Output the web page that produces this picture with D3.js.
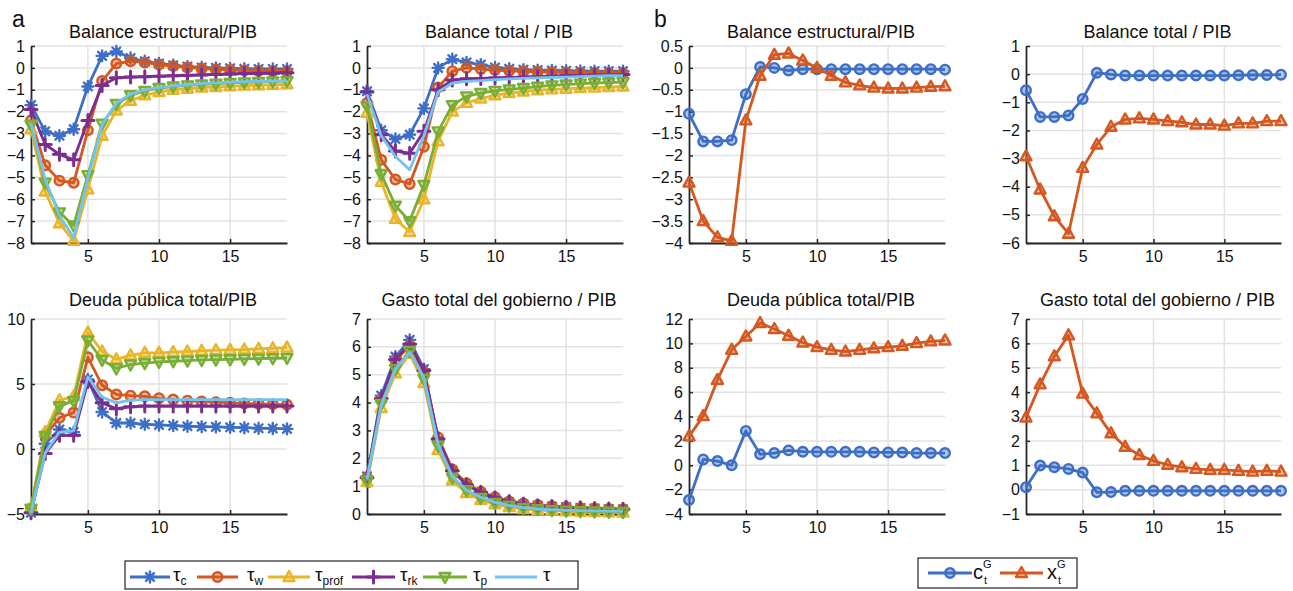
<!DOCTYPE html>
<html><head><meta charset="utf-8">
<script src="https://cdn.jsdelivr.net/npm/d3@7"></script>
<style>body{margin:0;background:#fff}svg{display:block}text{font-family:"Liberation Sans",Arial,Helvetica,sans-serif;fill:#111}</style>
</head><body><svg id="c" width="1293" height="591"></svg>
<script>
// ---------- DATA ----------
const periods = [1,2,3,4,5,6,7,8,9,10,11,12,13,14,15,16,17,18,19];
const xTicks = [5,10,15];

// Panel a — Balance estructural/PIB
const aBE_tc    = [-1.7,-2.9,-3.1,-2.8,-0.85,0.55,0.75,0.45,0.3,0.2,0.12,0.06,0.02,0.0,-0.02,-0.04,-0.05,-0.05,-0.05];
const aBE_tw    = [-2.4,-4.45,-5.15,-5.25,-2.85,-0.6,0.2,0.3,0.25,0.15,0.08,0.02,-0.03,-0.07,-0.1,-0.12,-0.14,-0.16,-0.17];
const aBE_tprof = [-2.8,-5.65,-7.1,-7.9,-5.55,-3.1,-1.95,-1.5,-1.25,-1.1,-1.0,-0.95,-0.9,-0.87,-0.84,-0.81,-0.79,-0.77,-0.75];
const aBE_trk   = [-1.9,-3.5,-3.95,-4.2,-2.4,-0.8,-0.45,-0.42,-0.4,-0.38,-0.36,-0.34,-0.32,-0.3,-0.28,-0.26,-0.25,-0.24,-0.22];
const aBE_tp    = [-2.6,-5.25,-6.6,-7.2,-4.9,-2.55,-1.65,-1.25,-1.05,-0.92,-0.85,-0.8,-0.76,-0.72,-0.69,-0.66,-0.64,-0.62,-0.6];
const aBE_t     = [-2.55,-5.1,-6.75,-7.75,-5.05,-2.6,-1.6,-1.2,-1.0,-0.9,-0.82,-0.77,-0.72,-0.68,-0.65,-0.63,-0.61,-0.6,-0.58];
const aBE_ticks = [-8,-7,-6,-5,-4,-3,-2,-1,0,1];

// Panel a — Balance total / PIB
const aBT_tc    = [-1.07,-2.85,-3.25,-3.05,-1.85,0.0,0.4,0.25,0.15,0.02,-0.04,-0.08,-0.1,-0.12,-0.13,-0.14,-0.15,-0.15,-0.15];
const aBT_tw    = [-1.6,-4.2,-5.1,-5.3,-3.6,-0.9,-0.15,0.0,-0.05,-0.1,-0.13,-0.16,-0.18,-0.2,-0.21,-0.22,-0.23,-0.24,-0.25];
const aBT_tprof = [-2.05,-5.2,-6.9,-7.5,-6.0,-3.35,-2.0,-1.6,-1.4,-1.25,-1.15,-1.08,-1.02,-0.98,-0.95,-0.92,-0.9,-0.88,-0.85];
const aBT_trk   = [-1.1,-3.05,-3.8,-3.9,-2.9,-1.0,-0.55,-0.5,-0.48,-0.46,-0.44,-0.42,-0.4,-0.38,-0.36,-0.35,-0.33,-0.32,-0.3];
const aBT_tp    = [-1.75,-4.85,-6.3,-7.0,-5.35,-2.9,-1.7,-1.3,-1.15,-1.05,-0.98,-0.92,-0.86,-0.8,-0.76,-0.72,-0.69,-0.67,-0.65];
const aBT_t     = [-1.2,-3.1,-4.05,-4.65,-3.1,-1.1,-0.7,-0.62,-0.58,-0.54,-0.5,-0.48,-0.46,-0.44,-0.42,-0.4,-0.38,-0.36,-0.35];
const aBT_ticks = [-8,-7,-6,-5,-4,-3,-2,-1,0,1];

// Panel a — Deuda pública total/PIB
const aDE_tc    = [-4.9,0.4,1.5,1.3,5.35,2.85,2.0,2.0,1.9,1.85,1.8,1.75,1.72,1.7,1.67,1.64,1.6,1.58,1.55];
const aDE_tw    = [-4.6,1.05,2.4,2.8,7.05,4.9,4.2,4.1,4.05,3.9,3.8,3.72,3.65,3.6,3.55,3.5,3.47,3.44,3.4];
const aDE_tprof = [-4.5,1.3,3.75,4.05,8.95,7.5,6.9,7.2,7.4,7.4,7.45,7.5,7.55,7.6,7.62,7.65,7.7,7.75,7.8];
const aDE_trk   = [-4.9,-0.35,1.05,1.05,5.2,3.55,3.1,3.25,3.3,3.3,3.3,3.3,3.3,3.3,3.3,3.3,3.3,3.3,3.3];
const aDE_tp    = [-4.6,1.0,3.3,3.7,8.35,6.85,6.2,6.5,6.6,6.7,6.75,6.8,6.85,6.88,6.9,6.93,6.95,6.98,7.0];
const aDE_t     = [-4.9,-0.3,1.3,1.4,5.55,4.0,3.55,3.75,3.8,3.8,3.8,3.8,3.8,3.8,3.8,3.8,3.8,3.8,3.8];
const aDE_ticks = [-5,0,5,10];

// Panel a — Gasto total del gobierno / PIB
const aGA_tc    = [1.35,4.25,5.65,6.25,5.2,2.65,1.55,1.05,0.75,0.55,0.42,0.35,0.3,0.27,0.25,0.22,0.2,0.18,0.17];
const aGA_tw    = [1.3,4.1,5.5,6.05,5.1,2.75,1.6,1.1,0.8,0.6,0.45,0.38,0.32,0.28,0.25,0.22,0.2,0.18,0.17];
const aGA_tprof = [1.15,3.8,5.05,5.75,4.7,2.3,1.2,0.75,0.5,0.35,0.25,0.18,0.14,0.12,0.1,0.08,0.07,0.06,0.05];
const aGA_trk   = [1.3,4.15,5.55,6.1,5.15,2.7,1.55,1.05,0.78,0.58,0.45,0.36,0.3,0.27,0.24,0.22,0.2,0.18,0.17];
const aGA_tp    = [1.2,3.95,5.2,5.85,4.85,2.45,1.3,0.85,0.58,0.4,0.3,0.22,0.17,0.14,0.12,0.1,0.09,0.08,0.07];
const aGA_t     = [1.25,3.9,5.2,5.8,4.9,2.5,1.35,0.85,0.6,0.42,0.3,0.23,0.18,0.15,0.13,0.12,0.11,0.1,0.1];
const aGA_ticks = [0,1,2,3,4,5,6,7];

// Panel b — Balance estructural/PIB
const bBE_c = [-1.05,-1.68,-1.68,-1.65,-0.6,0.02,0.0,-0.06,-0.03,-0.03,-0.03,-0.03,-0.03,-0.03,-0.03,-0.03,-0.03,-0.03,-0.04];
const bBE_x = [-2.62,-3.5,-3.87,-3.95,-1.2,-0.18,0.3,0.33,0.17,0.0,-0.18,-0.33,-0.4,-0.45,-0.47,-0.47,-0.45,-0.43,-0.42];
const bBE_ticks = [-4,-3.5,-3,-2.5,-2,-1.5,-1,-0.5,0,0.5];

// Panel b — Balance total / PIB
const bBT_c = [-0.57,-1.52,-1.52,-1.47,-0.88,0.05,-0.01,-0.05,-0.05,-0.05,-0.05,-0.05,-0.05,-0.05,-0.05,-0.04,-0.03,-0.03,-0.02];
const bBT_x = [-2.92,-4.1,-5.05,-5.67,-3.33,-2.5,-1.87,-1.61,-1.57,-1.61,-1.67,-1.71,-1.79,-1.79,-1.83,-1.75,-1.75,-1.67,-1.67];
const bBT_ticks = [-6,-5,-4,-3,-2,-1,0,1];

// Panel b — Deuda pública total/PIB
const bDE_c = [-2.85,0.48,0.34,0.0,2.82,0.9,1.0,1.22,1.11,1.1,1.1,1.1,1.1,1.05,1.05,1.05,1.0,1.0,1.0];
const bDE_x = [2.37,4.03,7.0,9.47,10.57,11.67,11.18,10.63,10.07,9.69,9.47,9.33,9.47,9.6,9.69,9.8,10.02,10.16,10.24];
const bDE_ticks = [-4,-2,0,2,4,6,8,10,12];

// Panel b — Gasto total del gobierno / PIB
const bGA_c = [0.1,0.99,0.92,0.85,0.7,-0.11,-0.1,-0.05,-0.05,-0.05,-0.05,-0.05,-0.05,-0.05,-0.05,-0.05,-0.05,-0.05,-0.05];
const bGA_x = [2.96,4.32,5.47,6.33,3.94,3.13,2.31,1.76,1.42,1.18,1.02,0.92,0.85,0.81,0.81,0.77,0.74,0.77,0.74];
const bGA_ticks = [-1,0,1,2,3,4,5,6,7];

const titles = ["Balance estructural/PIB","Balance total / PIB","Deuda pública total/PIB","Gasto total del gobierno / PIB"];
const legendA = [["c"],["w"],["prof"],["rk"],["p"],[""]];

// ---------- STYLE ----------
const C = {tc:"#3d6fc6", tw:"#d4581f", tprof:"#e8b52a", trk:"#7a2f8f", tp:"#78ae34", t:"#74c2f0"};
const font = '"Liberation Sans",Arial,Helvetica,sans-serif';

function markerPath(type){
  const r=5.5;
  switch(type){
    case "ast": { const a=r*0.72; return `M${-r},0L${r},0M0,${-r}L0,${r}M${-a},${-a}L${a},${a}M${-a},${a}L${a},${-a}`; }
    case "plus": return `M-6,0L6,0M0,-6L0,6`;
    case "circ": return d3.symbol(d3.symbolCircle, 72)();
    case "up": return `M0,-6L5.5,4L-5.5,4Z`;
    case "down": return `M0,6L5.5,-4L-5.5,-4Z`;
  }
  return null;
}

const svg = d3.select("#c");
const cols = [[31,287],[367,623],[689,945],[1026,1281]];
const rows = [[46,243],[319,514]];

function drawMarkers(sel,m,color){
  const filled=(m==="circ"||m==="up"||m==="down");
  if(m==="ast"){
    sel.append("circle").attr("r",3.2).attr("fill",color).attr("fill-opacity",0.8);
  }
  sel.append("path").attr("d",markerPath(m))
    .attr("fill",filled?color:"none").attr("fill-opacity",filled?0.4:0)
    .attr("stroke",color).attr("stroke-width",m==="plus"?3:2.4)
    .attr("stroke-linejoin","round").attr("stroke-linecap","round");
}

function drawPanel(col,row,title,ticks,series){
  const [x0,x1]=cols[col], [y0,y1]=rows[row];
  const x=d3.scaleLinear().domain([1,19]).range([x0,x1]);
  const y=d3.scaleLinear().domain([ticks[0],ticks[ticks.length-1]]).range([y1,y0]);
  const g=svg.append("g");
  g.selectAll(".gy").data(ticks).join("line")
    .attr("x1",x0).attr("x2",x1).attr("y1",d=>y(d)).attr("y2",d=>y(d))
    .attr("stroke","#e2e2e2").attr("stroke-width",1.5);
  g.selectAll(".gx").data(xTicks).join("line")
    .attr("x1",d=>x(d)).attr("x2",d=>x(d)).attr("y1",y0).attr("y2",y1)
    .attr("stroke","#e2e2e2").attr("stroke-width",1.5);
  const fmt = d3.format("~g");
  const ay=g.append("g").attr("transform",`translate(${x0},0)`)
    .call(d3.axisLeft(y).tickValues(ticks).tickFormat(fmt).tickSizeInner(-4).tickSizeOuter(0).tickPadding(6));
  const ax=g.append("g").attr("transform",`translate(0,${y1})`)
    .call(d3.axisBottom(x).tickValues(xTicks).tickFormat(fmt).tickSizeInner(-4).tickSizeOuter(0).tickPadding(8));
  [ay,ax].forEach(a=>{
    a.select(".domain").attr("stroke","#262626").attr("stroke-width",1.8);
    a.selectAll(".tick line").attr("stroke","#262626").attr("stroke-width",1.5);
    a.selectAll(".tick text").attr("font-family",font).attr("font-size",16).attr("fill","#111");
  });
  const line=d3.line().x((d,i)=>x(periods[i])).y(d=>y(d));
  series.forEach(s=>{
    const sg=g.append("g");
    sg.append("path").attr("d",line(s.v)).attr("fill","none")
      .attr("stroke",s.c).attr("stroke-width",2.8).attr("stroke-linejoin","round");
    if(s.m){
      const mk=sg.selectAll("g.mk").data(s.v).join("g").attr("class","mk")
        .attr("transform",(d,i)=>`translate(${x(periods[i])},${y(d)})`);
      drawMarkers(mk,s.m,s.c);
    }
  });
  svg.append("text").attr("x",(x0+x1)/2+4).attr("y",row===0?38:306)
    .attr("text-anchor","middle").attr("font-size",18).text(title);
}

function aSeries(tc,tw,tprof,trk,tp,t){
  return [
    {v:tc,c:C.tc,m:"ast"},{v:tw,c:C.tw,m:"circ"},{v:tprof,c:C.tprof,m:"up"},
    {v:trk,c:C.trk,m:"plus"},{v:tp,c:C.tp,m:"down"},{v:t,c:C.t,m:null}];
}
function bSeries(c,xg){ return [{v:c,c:C.tc,m:"circ"},{v:xg,c:C.tw,m:"up"}]; }

drawPanel(0,0,titles[0],aBE_ticks,aSeries(aBE_tc,aBE_tw,aBE_tprof,aBE_trk,aBE_tp,aBE_t));
drawPanel(1,0,titles[1],aBT_ticks,aSeries(aBT_tc,aBT_tw,aBT_tprof,aBT_trk,aBT_tp,aBT_t));
drawPanel(0,1,titles[2],aDE_ticks,aSeries(aDE_tc,aDE_tw,aDE_tprof,aDE_trk,aDE_tp,aDE_t));
drawPanel(1,1,titles[3],aGA_ticks,aSeries(aGA_tc,aGA_tw,aGA_tprof,aGA_trk,aGA_tp,aGA_t));
drawPanel(2,0,titles[0],bBE_ticks,bSeries(bBE_c,bBE_x));
drawPanel(3,0,titles[1],bBT_ticks,bSeries(bBT_c,bBT_x));
drawPanel(2,1,titles[2],bDE_ticks,bSeries(bDE_c,bDE_x));
drawPanel(3,1,titles[3],bGA_ticks,bSeries(bGA_c,bGA_x));

svg.append("text").attr("x",12).attr("y",27).attr("font-size",23).text("a");
svg.append("text").attr("x",654).attr("y",27).attr("font-size",23).text("b");

// ---------- LEGENDS ----------
function legendItem(lx1,lx2,ly,color,m){
  svg.append("line").attr("x1",lx1).attr("x2",lx2).attr("y1",ly).attr("y2",ly)
    .attr("stroke",color).attr("stroke-width",2.8);
  if(m){
    const mg=svg.append("g").attr("transform",`translate(${(lx1+lx2)/2},${ly})`);
    drawMarkers(mg,m,color);
  }
}
svg.append("rect").attr("x",125).attr("y",561).attr("width",453).attr("height",28)
  .attr("fill","#fff").attr("stroke","#222").attr("stroke-width",1.2);
const aLeg = [[130,170,173,"tc","ast"],[197,238,247,"tw","circ"],[268,310,315,"tprof","up"],
              [352,395,400,"trk","plus"],[423,467,473,"tp","down"],[495,537,543,"t",null]];
aLeg.forEach((d,i)=>{
  legendItem(d[0],d[1],577,C[d[3]],d[4]);
  const t=svg.append("text").attr("x",d[2]).attr("y",581).attr("font-size",19).text("τ");
  if(legendA[i][0]) t.append("tspan").attr("font-size",12).attr("dy",4).text(legendA[i][0]);
});
svg.append("rect").attr("x",918).attr("y",558).attr("width",159).attr("height",30)
  .attr("fill","#fff").attr("stroke","#222").attr("stroke-width",1.2);
const bLeg = [[928,972,973,"tc","circ","c"],[1000,1043,1047,"tw","up","x"]];
bLeg.forEach(d=>{
  legendItem(d[0],d[1],573,C[d[3]],d[4]);
  svg.append("text").attr("x",d[2]).attr("y",579).attr("font-size",20).text(d[5]);
  svg.append("text").attr("x",d[2]+10).attr("y",568).attr("font-size",11).text("G");
  svg.append("text").attr("x",d[2]+11).attr("y",584).attr("font-size",11).text("t");
});
</script></body></html>
